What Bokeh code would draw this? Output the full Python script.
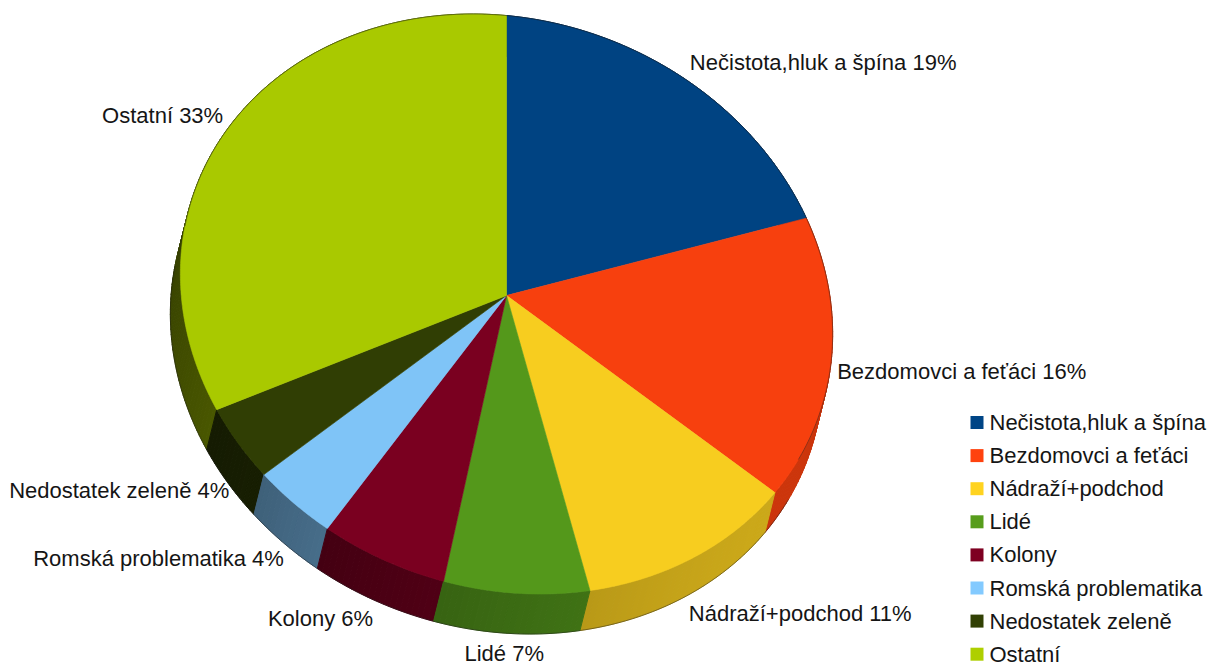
import math
import numpy as np
from bokeh.plotting import figure
from bokeh.models import ColumnDataSource, Range1d
from bokeh.embed import file_html
from bokeh.resources import INLINE
from bokeh.core.properties import value

# ---------------- data ----------------
categories = ["Nečistota,hluk a špína", "Bezdomovci a feťáci", "Nádraží+podchod", "Lidé",
              "Kolony", "Romská problematika", "Nedostatek zeleně", "Ostatní"]
percent = [19, 16, 11, 7, 6, 4, 4, 33]
label_texts = ["Nečistota,hluk a špína 19%", "Bezdomovci a feťáci 16%", "Nádraží+podchod 11%",
               "Lidé  7%", "Kolony 6%", "Romská problematika 4%", "Nedostatek zeleně 4%", "Ostatní 33%"]
colors = ["#004586", "#ff420e", "#ffd320", "#579d1c", "#7e0021", "#83caff", "#314004", "#aecf00"]

# ---------------- layout / 3D view ----------------
W, H = 1207, 668
CX, CY = 506.0, H - 295.0          # apex of the pie
RA, RB, SHEAR, PERSP = 326.0, 288.2, 30.0, 0.0295
EXT = (-10.0, -40.0)                # extrusion of the pie thickness
FONT = value("Liberation Sans")
FSIZE = "22px"
TXT = "#151515"


def proj(theta_deg):
    t = np.radians(theta_deg)
    X, Y = np.cos(t), np.sin(t)
    w = 1 + PERSP * Y
    return CX + RA * X / w, CY + (RB * Y - SHEAR * X) / w


def shade(hexcol, f):
    h = hexcol.lstrip("#")
    r, g, b = (int(h[i:i + 2], 16) for i in (0, 2, 4))
    return "#%02x%02x%02x" % tuple(max(0, min(255, int(round(c * f)))) for c in (r, g, b))


total = float(sum(percent))
starts, ends = [], []
a = 90.0
for v in percent:
    span = 360.0 * v / total
    starts.append(a)
    ends.append(a - span)
    a -= span

p = figure(width=W, height=H, x_range=Range1d(0, W), y_range=Range1d(0, H),
           output_backend="svg", toolbar_location=None, min_border=0)
p.axis.visible = False
p.grid.visible = False
p.outline_line_color = None
p.background_fill_color = "white"
p.border_fill_color = "white"

# ---- side walls ----
quads = []
for i, (s, e) in enumerate(zip(starts, ends)):
    n = max(2, int(math.ceil((s - e) / 1.0)))
    th = np.linspace(s, e, n + 1)
    for j in range(n):
        t1, t2 = th[j], th[j + 1]
        x1, y1 = proj(t1)
        x2, y2 = proj(t2)
        tm = 0.5 * (t1 + t2)
        f = 0.55 + 0.25 * math.cos(math.radians(tm + 30))
        col = shade(colors[i], f)
        depth = math.sin(math.radians(tm))
        quads.append((depth, [x1, x2, x2 + EXT[0], x1 + EXT[0]],
                      [y1, y2, y2 + EXT[1], y1 + EXT[1]], col))
quads.sort(key=lambda q: -q[0])
side_src = ColumnDataSource(dict(xs=[q[1] for q in quads], ys=[q[2] for q in quads],
                                 c=[q[3] for q in quads]))
p.patches("xs", "ys", source=side_src, fill_color="c", line_color="c", line_width=1)

# ---- top faces ----
txs, tys, tcs = [], [], []
for i, (s, e) in enumerate(zip(starts, ends)):
    th = np.linspace(s, e, max(3, int((s - e) / 0.5)))
    ax, ay = proj(th)
    txs.append([CX] + list(ax))
    tys.append([CY] + list(ay))
    tcs.append(shade(colors[i], 0.97))
p.patches(txs, tys, fill_color=tcs, line_color=tcs, line_width=0.6)

# ---- silhouette outline ----
th_back = np.linspace(172, -28, 300)
bx, by = proj(th_back)
th_front = np.linspace(-28, -188, 300)
fx, fy = proj(th_front)
p.multi_line([list(bx), list(fx + EXT[0])], [list(by), list(fy + EXT[1])],
             line_color="#202020", line_alpha=0.45, line_width=1)

# ---- data labels ----
lx, ly, la = [], [], []
for i, (s, e) in enumerate(zip(starts, ends)):
    m = 0.5 * (s + e)
    x0, y0 = proj(m)
    c, sn = math.cos(math.radians(m)), math.sin(math.radians(m))
    k = min(1.0, max(0.0, -sn) * 1.5)
    x0 += EXT[0] * k
    y0 += EXT[1] * k
    ox = 8 * c if (c > 0 or sn > 0) else 0.0
    lx.append(x0 + ox)
    ly.append(y0 + 20 * sn)
    la.append("left" if c > 0.3 else ("right" if c < -0.3 else "center"))
lab_src = ColumnDataSource(dict(x=lx, y=ly, t=label_texts, a=la))
p.text("x", "y", text="t", source=lab_src, text_align="a", text_baseline="middle",
       text_font=FONT, text_font_size=FSIZE, text_color=TXT)

# ---- legend ----
leg_y = [H - (422 + 33.1 * i) for i in range(len(categories))]
p.rect(x=[976.5] * len(categories), y=leg_y, width=13, height=13,
       fill_color=colors, line_color=None)
p.text(x=[989] * len(categories), y=leg_y, text=categories, text_baseline="middle",
       text_align="left", text_font=FONT, text_font_size=FSIZE, text_color=TXT)

open("out.html", "w").write(file_html(p, INLINE))
